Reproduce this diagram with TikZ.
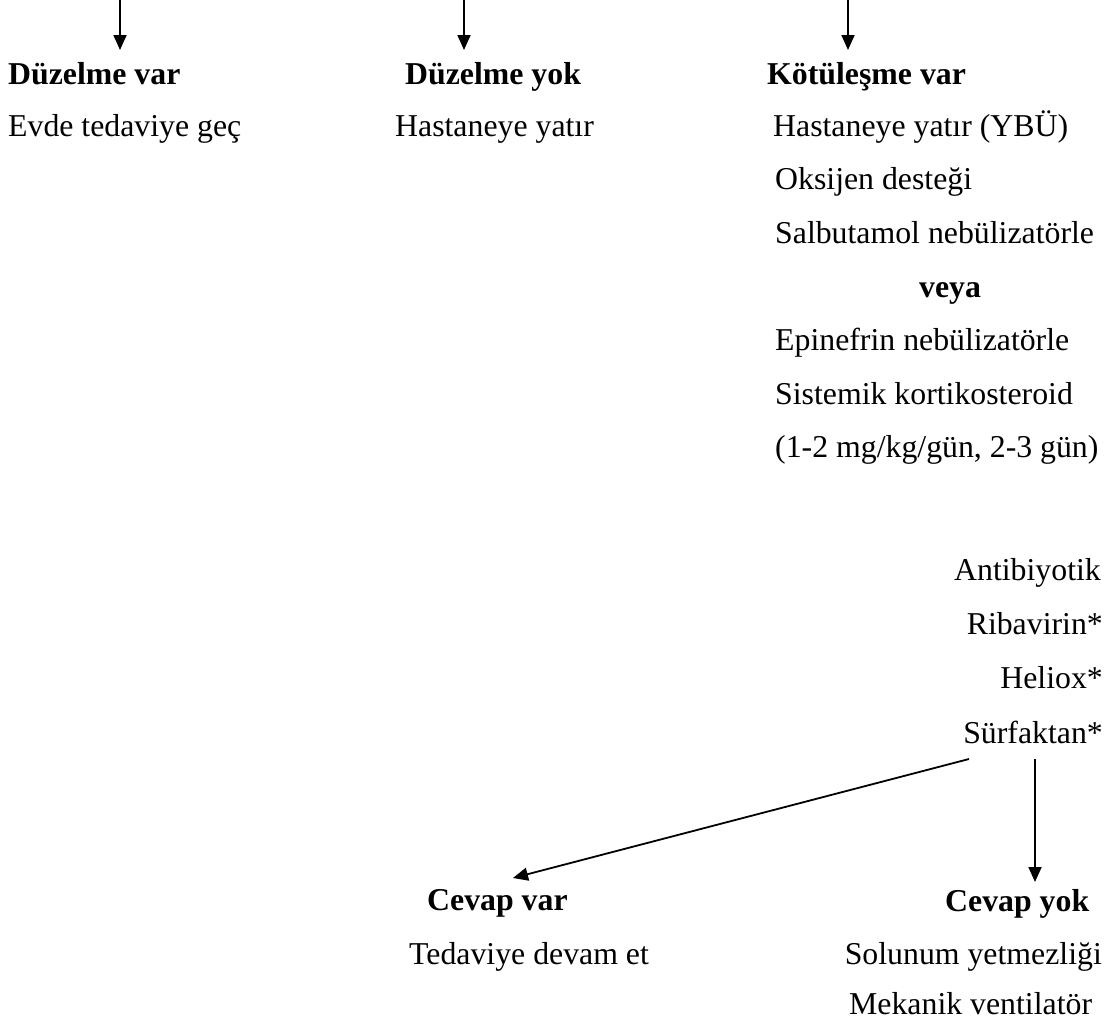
\documentclass[tikz,border=0pt]{standalone}
\usepackage{fontspec}
\setmainfont{Liberation Serif}
\usetikzlibrary{arrows.meta}
\begin{document}
\begin{tikzpicture}[x=1pt,y=-1pt,
  txt/.style={inner sep=0pt, font=\fontsize{31.8}{36}\selectfont},
  hd/.style={inner sep=0pt, font=\fontsize{31.8}{36}\selectfont\bfseries},
  arr/.style={line width=1.8pt, -{Triangle[length=15pt,width=13pt]}}]
\useasboundingbox (0,0) rectangle (1114,1028);
% headings and texts
\node[hd, anchor=base west] (h1) at (8,84) {Düzelme var};
\node[txt, anchor=base west] (l1) at (8,136) {Evde tedaviye geç};
\node[hd, anchor=base west] (h2) at (405,84) {Düzelme yok};
\node[txt, anchor=base west] (l2) at (395,136) {Hastaneye yatır};
\node[hd, anchor=base west] (h3) at (767,84) {Kötüleşme var};
\node[txt, anchor=base west] (r1) at (773,136) {Hastaneye yatır (YBÜ)};
\node[txt, anchor=base west] (r2) at (775,189.5) {Oksijen desteği};
\node[txt, anchor=base west] (r3) at (775,243) {Salbutamol nebülizatörle};
\node[hd, anchor=base] (r4) at (950,297) {veya};
\node[txt, anchor=base west] (r5) at (775,350) {Epinefrin nebülizatörle};
\node[txt, anchor=base west] (r6) at (775,404) {Sistemik kortikosteroid};
\node[txt, anchor=base west] (r7) at (775,457) {(1-2 mg/kg/gün, 2-3 gün)};
\node[txt, anchor=base east] (a1) at (1101,580) {Antibiyotik};
\node[txt, anchor=base east] (a2) at (1103,634) {Ribavirin*};
\node[txt, anchor=base east] (a3) at (1103,688) {Heliox*};
\node[txt, anchor=base east] (a4) at (1103,743) {Sürfaktan*};
\node[hd, anchor=base west] (c1) at (427,910) {Cevap var};
\node[txt, anchor=base west] (c2) at (409,964) {Tedaviye devam et};
\node[hd, anchor=base west] (d1) at (945,911) {Cevap yok};
\node[txt, anchor=base east] (d2) at (1102,964) {Solunum yetmezliği};
\node[txt, anchor=base west] (d3) at (849,1014) {Mekanik ventilatör};
% connectors
\coordinate (t1) at (120,0); \coordinate (e1) at (120,50);
\coordinate (t2) at (464,0); \coordinate (e2) at (464,50);
\coordinate (t3) at (848,0); \coordinate (e3) at (848,50);
\draw[arr] (t1) -- (e1);
\draw[arr] (t2) -- (e2);
\draw[arr] (t3) -- (e3);
\coordinate (s1) at (969,759); \coordinate (f1) at (513,878);
\coordinate (s2) at (1035,759); \coordinate (f2) at (1035,882);
\draw[arr] (s1) -- (f1);
\draw[arr] (s2) -- (f2);
\end{tikzpicture}
\end{document}
